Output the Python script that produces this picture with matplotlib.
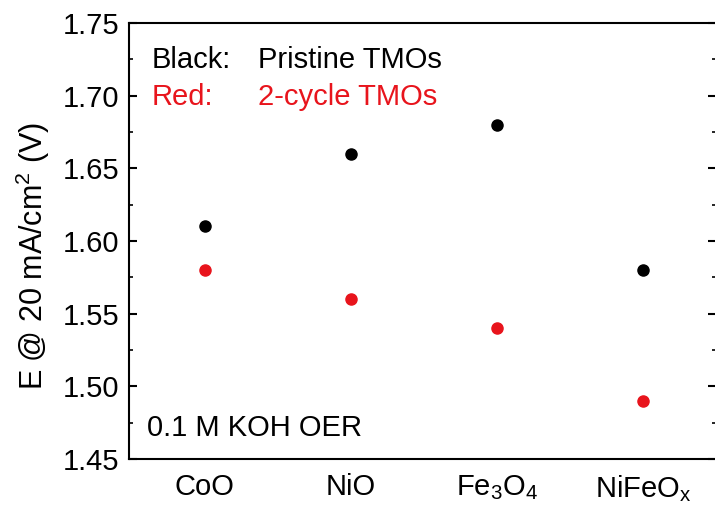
import matplotlib.pyplot as plt
from matplotlib.ticker import MultipleLocator

plt.rcParams['font.family'] = ['Liberation Sans', 'DejaVu Sans']
plt.rcParams['mathtext.fontset'] = 'custom'
plt.rcParams['mathtext.rm'] = 'Liberation Sans'
plt.rcParams['mathtext.it'] = 'Liberation Sans'

# catalysts and OER potentials at 20 mA/cm2
catalysts = ['CoO', 'NiO', r'Fe$_3$O$_4$', r'NiFeO$_\mathrm{x}$']
pristine = [1.61, 1.66, 1.68, 1.58]
cycled = [1.58, 1.56, 1.54, 1.49]

RED = '#e8141c'
FS = 21

fig = plt.figure(figsize=(7.15, 5.15), dpi=100)
ax = fig.add_axes([0.180, 0.109, 0.822, 0.846])

xs = list(range(1, len(catalysts) + 1))
ax.plot(xs, pristine, 'o', color='black', markersize=8, linestyle='none')
ax.plot(xs, cycled, 'o', color=RED, markersize=8, linestyle='none')

ax.set_xlim(0.48, 4.5)
ax.set_ylim(1.45, 1.75)
ax.set_xticks(xs)
ax.set_xticklabels(catalysts)
ax.yaxis.set_major_locator(MultipleLocator(0.05))
ax.yaxis.set_minor_locator(MultipleLocator(0.025))
ax.yaxis.set_major_formatter(lambda v, p: f'{v:.2f}')
ax.tick_params(axis='y', which='both', direction='in', right=True, labelsize=FS, pad=7)
ax.tick_params(axis='y', which='major', length=6, width=1.5)
ax.tick_params(axis='y', which='minor', length=3, width=1.2)
ax.tick_params(axis='x', length=0, labelsize=FS, pad=10)
for s in ax.spines.values():
    s.set_linewidth(1.5)

ax.set_ylabel(r'E @ 20 mA/cm$^2$ (V)', fontsize=22)
ax.yaxis.set_label_coords(-0.131, 0.465)

ax.text(0.039, 0.915, 'Black:', transform=ax.transAxes, fontsize=FS, va='center')
ax.text(0.22, 0.915, 'Pristine TMOs', transform=ax.transAxes, fontsize=FS, va='center')
ax.text(0.039, 0.83, 'Red:', transform=ax.transAxes, fontsize=FS, va='center', color=RED)
ax.text(0.22, 0.83, '2-cycle TMOs', transform=ax.transAxes, fontsize=FS, va='center', color=RED)
ax.text(0.031, 0.071, '0.1 M KOH OER', transform=ax.transAxes, fontsize=FS, va='center')

fig.savefig('out.png', dpi=100)
